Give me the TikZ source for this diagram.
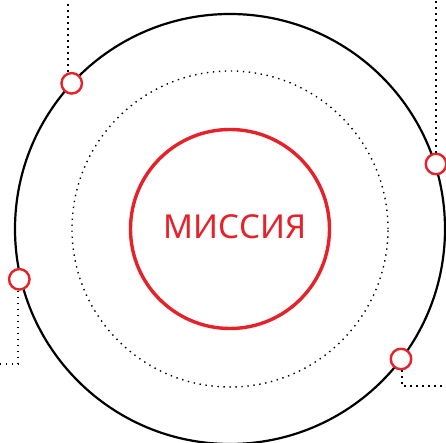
\documentclass[tikz,border=0pt]{standalone}
\usepackage{fontspec}
\setmainfont{Noto Sans}
\usetikzlibrary{positioning}
\definecolor{brand}{HTML}{E5222A}
\tikzset{
  orbit/.style={draw=black,line width=2.2pt},
  ring/.style={draw=black,line width=1.4pt,dash pattern=on 1.4pt off 4.6pt},
  core/.style={draw=brand,line width=3.4pt},
  lead/.style={draw=black,line width=1.5pt,dash pattern=on 1.5pt off 4.5pt},
  pin/.style={circle,draw=brand,fill=white,line width=2.4pt,inner sep=0pt,minimum size=20.5pt},
  title/.style={text=brand,font=\fontsize{33}{36}\selectfont,anchor=base,inner sep=0pt}
}
\begin{document}
\begin{tikzpicture}[x=1pt,y=1pt]
  \useasboundingbox (0,0) rectangle (446,443);
  % centre and the three rings
  \coordinate (c) at (230,214);
  \draw[orbit] (c) circle[radius=215];
  \draw[ring] (c) circle[radius=158];
  \draw[core] (c) circle[radius=99.5];
  \node[title] (mission) at (235,204) {МИССИЯ};
  % leader ends
  \coordinate (t1) at (68,443);
  \coordinate (t2) at (436,443);
  \coordinate (k3) at (18,79);
  \coordinate (e3) at (0,79);
  \coordinate (k4) at (402,57);
  \coordinate (e4) at (446,57);
  % pins on the outer ring
  \node[pin] (p1) at (71.7,359.7) {};
  \node[pin] (p2) at (436,279) {};
  \node[pin] (p3) at (19.3,163.7) {};
  \node[pin] (p4) at (401,84) {};
  % dotted leaders out to the edges
  \draw[lead] (p1.north -| t1) -- (t1);
  \draw[lead] (p2.north) -- (t2);
  \draw[lead] (p3.south -| k3) -- (k3) -- (e3);
  \draw[lead] (p4.south -| k4) -- (k4) -- (e4);
\end{tikzpicture}
\end{document}
